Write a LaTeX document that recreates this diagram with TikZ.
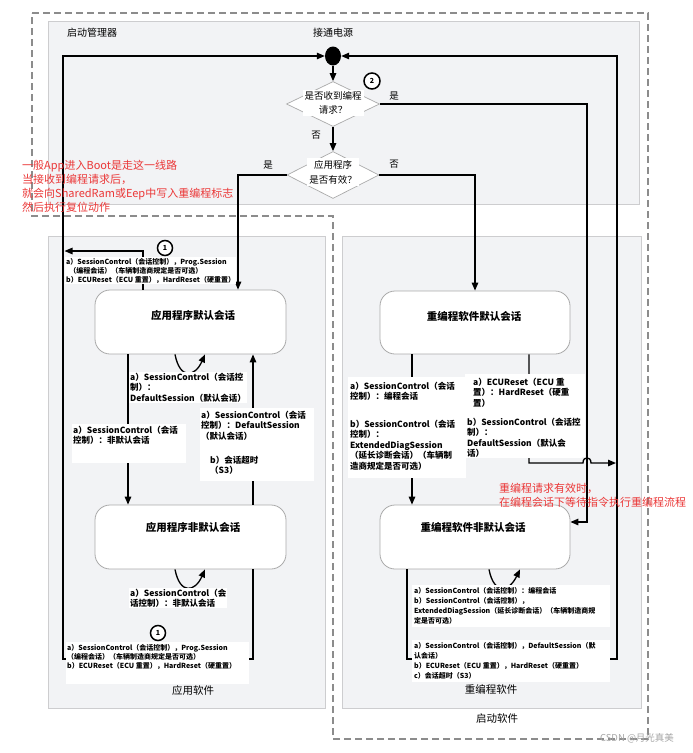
\documentclass[tikz,border=0pt]{standalone}
\usepackage{fontspec}
\setmainfont{Noto Sans CJK SC}
\usetikzlibrary{arrows.meta,shapes.geometric}
\definecolor{panel}{RGB}{242,243,245}
\definecolor{panelline}{RGB}{205,205,207}
\definecolor{boxline}{RGB}{170,170,170}
\definecolor{redtxt}{RGB}{235,55,55}
\definecolor{dashc}{RGB}{140,140,140}
\begin{document}
\begin{tikzpicture}[x=1pt,y=-1pt,
  panelbox/.style={draw=panelline, fill=panel, line width=0.9pt, inner sep=0},
  dashline/.style={draw=dashc, line width=1.2pt, dash pattern=on 7pt off 4pt},
  rbox/.style={draw=boxline, fill=white, rounded corners=15pt, line width=0.8pt, inner sep=0, minimum width=191, minimum height=64},
  dia/.style={diamond, draw=boxline, fill=white, line width=0.7pt, inner sep=0},
  dtxt/.style={fill=white, inner sep=2pt, align=center, font=\fontsize{9.5}{14}\selectfont},
  ttl/.style={inner sep=0, font=\fontsize{10}{12}\selectfont},
  btxt/.style={inner sep=0, font=\fontsize{10.5}{12}\selectfont\bfseries},
  yn/.style={inner sep=0, font=\fontsize{9.5}{11}\selectfont},
  lab/.style={fill=white, inner sep=1pt, align=left, anchor=north west, font=\fontsize{8.5}{10.5}\selectfont\bfseries},
  slab/.style={fill=white, inner sep=1pt, align=left, anchor=north west, font=\fontsize{7}{9}\selectfont\bfseries},
  num/.style={circle, draw=black, fill=white, line width=1.5pt, inner sep=0, minimum size=15, font=\fontsize{7}{7}\selectfont\bfseries},
  redlab/.style={text=redtxt, align=left, anchor=north west, inner sep=0, font=\fontsize{11}{14}\selectfont},
  arr/.style={line width=1.3pt, -{Triangle[length=8pt,width=6.5pt]}}
]
\useasboundingbox (0,0) rectangle (693,753);
\fill[white] (0,0) rectangle (693,753);

% panels
\node[panelbox, minimum width=591, minimum height=183] (mgr) at (343.5,112.5) {};
\node[panelbox, minimum width=277, minimum height=472] (appsw) at (186.5,472) {};
\node[panelbox, minimum width=299, minimum height=472] (repsw) at (491.5,472) {};
\draw[dashline] (32,13) -- (648,13) -- (648,739) -- (333,739) -- (333,216) -- (32,216) -- cycle;

% titles
\node[ttl] (tmgr) at (92,33) {启动管理器};
\node[ttl] (tpwr) at (333,33) {接通电源};
\node[ttl, font=\fontsize{10.5}{12}\selectfont] (tapp) at (193,690) {应用软件};
\node[ttl, font=\fontsize{10.5}{12}\selectfont] (trep) at (491,689) {重编程软件};
\node[ttl, font=\fontsize{10.5}{12}\selectfont] (tboot) at (497,719) {启动软件};

% power dot and decisions
\node[ellipse, fill=black, minimum width=16, minimum height=19, inner sep=0] (pwr) at (333,56) {};
\node[dia, minimum width=93, minimum height=45] (d1) at (333,104) {};
\node[dia, minimum width=92, minimum height=47] (d2) at (333,175) {};
\node[dtxt] (d1t) at (333,103) {是否收到编程\\请求？};
\node[dtxt, font=\fontsize{9.5}{15}\selectfont] (d2t) at (333,172) {应用程序\\是否有效？};
\node[num, minimum size=16] (n2) at (372,81) {2};

% state boxes
\node[rbox] (appdef) at (190.5,322) {};
\node[rbox] (appnd) at (190.5,537) {};
\node[rbox, minimum width=190, minimum height=63] (repdef) at (475,322.5) {};
\node[rbox, minimum width=190] (repnd) at (475,537) {};

% helper coordinates
\coordinate (xA) at (238,0);
\coordinate (xB) at (143,0);
\coordinate (xL) at (63,0);
\coordinate (xC) at (128,0);
\coordinate (xD) at (253,0);
\coordinate (xE) at (412,0);
\coordinate (xF) at (529,0);
\coordinate (xG) at (587,0);
\coordinate (xH) at (407,0);
\coordinate (xR) at (617,0);
\coordinate (yBr) at (0,659);
\coordinate (yRq) at (0,522);
\coordinate (yHop) at (0,463);
\coordinate (jL) at (64.5,251);
\coordinate (hop1) at (583,463);
\coordinate (hop2) at (591,463);
\coordinate (jR) at (616,463);
\coordinate (s1a) at (175,0);
\coordinate (s1b) at (205,0);
\coordinate (s2a) at (489,0);
\coordinate (s2b) at (520,0);

% connectors
\draw[arr] (pwr) -- (d1);
\draw[arr] (d1) -- (d2);
\draw[arr] (d2.west) -| (appdef.north -| xA);
\draw[arr] (d2.east) -| (repdef.north);
\draw[arr] (d1.east) -| (xG |- yRq) -- (repnd.east |- yRq);
\draw[arr] (appnd.south -| xD) -- (xD |- yBr) -- (xL |- yBr) |- (pwr.west);
\draw[arr] (appdef.north -| xB) |- (jL);
\draw[arr] (appdef.south -| xC) -- (appnd.north -| xC);
\draw[arr] (appnd.north -| xD) -- (appdef.south -| xD);
\draw[arr] (repdef.south -| xE) -- (repnd.north -| xE);
\draw[arr] (repdef.south -| xF) |- (hop1) .. controls (583,456) and (591,456) .. (hop2) -- (jR);
\draw[arr] (repnd.south -| xH) -- (xH |- yBr) -- (xR |- yBr) |- (pwr.east);
\draw[arr] (appdef.south -| s1a) .. controls (180,380) and (195,377) .. (appdef.south -| s1b);
\draw[arr] (appnd.south -| s1a) .. controls (180,595) and (195,592) .. (appnd.south -| s1b);
\draw[arr] (repnd.south -| s2a) .. controls (494,595) and (509,592) .. (repnd.south -| s2b);

% box texts
\node[btxt] (appdeft) at (193,315) {应用程序默认会话};
\node[btxt] (appndt) at (193,527) {应用程序非默认会话};
\node[btxt] (repdeft) at (474,316) {重编程软件默认会话};
\node[btxt] (repndt) at (473,527) {重编程软件非默认会话};

% yes / no
\node[yn] (y1) at (394,96) {是};
\node[yn] (n1) at (316,135) {否};
\node[yn] (y2) at (268,165) {是};
\node[yn] (n2t) at (394,164) {否};

% labels, application software
\node[slab] (l1) at (65,257) {a）SessionControl（会话控制），Prog.Session\\\ \ （编程会话）（车辆制造商规定是否可选）\\b）ECUReset（ECU 重置），HardReset（硬重置）};
\node[num] (c1a) at (165,248) {1};
\node[lab] (l2) at (129,371.5) {a）SessionControl（会话控\\制）：\\DefaultSession（默认会话）};
\fill[white] (72,424) rectangle (186,463);
\node[lab] (l3) at (72,424.5) {a）SessionControl（会话\\控制）：非默认会话};
\fill[white] (200,408) rectangle (314,481);
\node[lab] (l4) at (200,409.5) {a）SessionControl（会话\\控制）：DefaultSession\\（默认会话）};
\node[lab] (l5) at (209,454.5) {b）会话超时\\（S3）};
\node[lab] (l6) at (129,587.5) {a）SessionControl（会\\话控制）：非默认会话};
\fill[white] (66,642) rectangle (249,684);
\node[slab] (l7) at (66,643.5) {a）SessionControl（会话控制），Prog.Session\\（编程会话）（车辆制造商规定是否可选）\\b）ECUReset（ECU 重置），HardReset（硬重置）};
\node[num] (c1b) at (158,633) {1};

% labels, reprogramming software
\fill[white] (348,377) rectangle (466,478);
\node[lab] (r1) at (349,380.5) {a）SessionControl（会话\\控制）：编程会话};
\node[lab] (r2) at (349,418.5) {b）SessionControl（会话\\控制）：\\ExtendedDiagSession\\（延长诊断会话）（车辆制\\造商规定是否可选）};
\fill[white] (465,374) rectangle (585,457);
\node[lab] (r3) at (472,376.5) {a）ECUReset（ECU 重\\置）：HardReset（硬重\\置）};
\node[lab] (r4) at (466,416.5) {b）SessionControl（会话控\\制）：\\DefaultSession（默认会\\话）};
\fill[white] (412,585) rectangle (610,627);
\node[slab, font=\fontsize{7}{10}\selectfont\bfseries] (r5) at (413,586) {a）SessionControl（会话控制）：编程会话\\b）SessionControl（会话控制），\\ExtendedDiagSession（延长诊断会话）（车辆制造商规\\定是否可选）};
\fill[white] (412,640) rectangle (610,682);
\node[slab, font=\fontsize{7}{10}\selectfont\bfseries] (r6) at (413,641) {a）SessionControl（会话控制），DefaultSession（默\\认会话）\\b）ECUReset（ECU 重置），HardReset（硬重置）\\c）会话超时（S3）};

% red notes
\node[redlab] (red1) at (22,159.5) {一般App进入Boot是走这一线路\\当接收到编程请求后，\\就会向SharedRam或Eep中写入重编程标志\\然后执行复位动作};
\node[redlab] (red2) at (499,482.5) {重编程请求有效时，\\在编程会话下等待指令执行重编程流程};

% watermark
\node[text=black!35, inner sep=0, font=\fontsize{9.5}{11}\selectfont] (wm) at (637,738) {CSDN @月光真美};
\end{tikzpicture}
\end{document}
